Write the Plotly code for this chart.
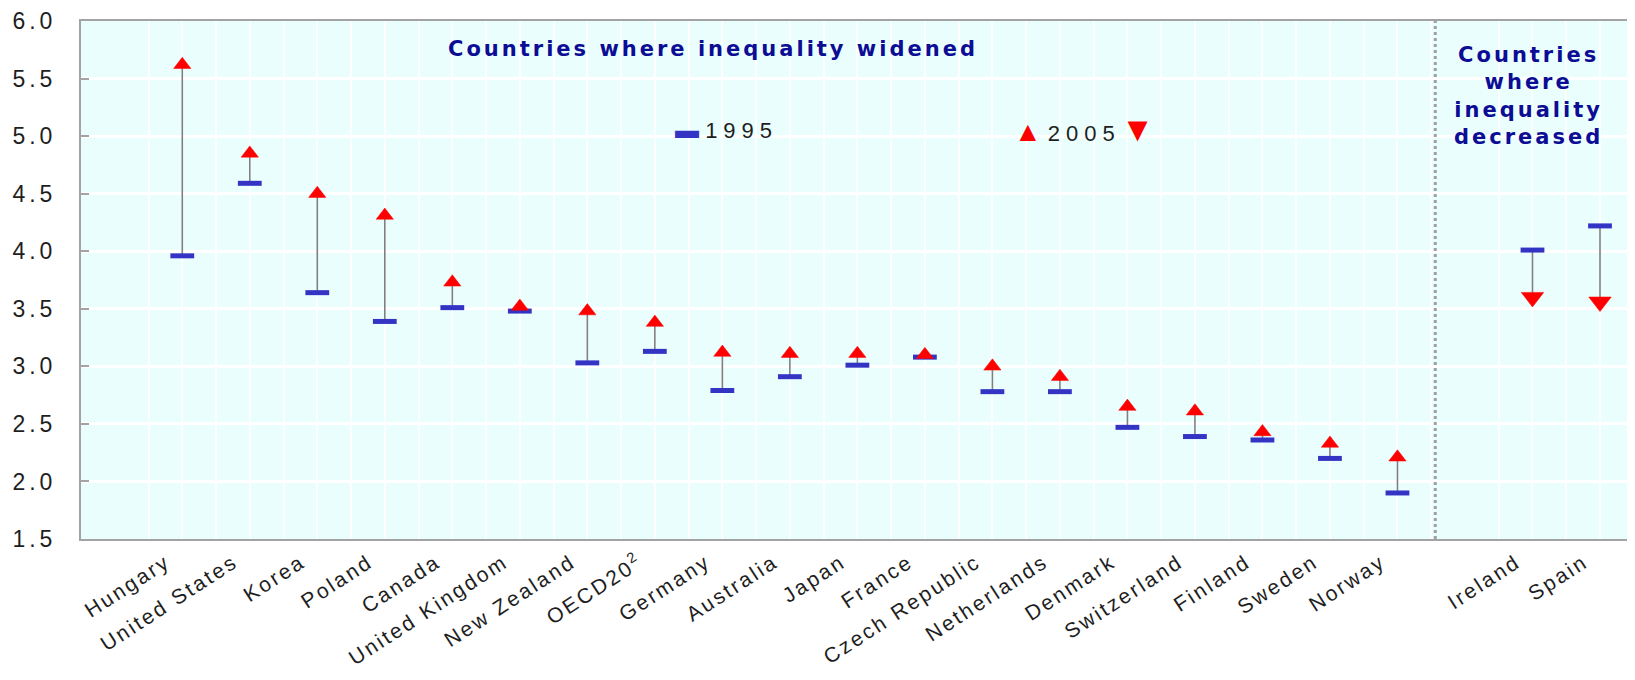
import plotly.graph_objects as go

# ---- data -------------------------------------------------------------
countries = ["Hungary", "United States", "Korea", "Poland", "Canada",
             "United Kingdom", "New Zealand", "OECD20<sup>2</sup>", "Germany",
             "Australia", "Japan", "France", "Czech Republic", "Netherlands",
             "Denmark", "Switzerland", "Finland", "Sweden", "Norway",
             "Ireland", "Spain"]
v1995 = [3.96, 4.59, 3.64, 3.39, 3.51, 3.48, 3.03, 3.13, 2.79, 2.91, 3.01,
         3.08, 2.78, 2.78, 2.47, 2.39, 2.36, 2.20, 1.90, 4.01, 4.22]
v2005 = [5.62, 4.85, 4.50, 4.31, 3.73, 3.52, 3.48, 3.38, 3.12, 3.11, 3.11,
         3.10, 3.00, 2.91, 2.65, 2.61, 2.43, 2.33, 2.21, 3.60, 3.56]
n_widened = 19          # first 19 countries: inequality widened
y_ticks = [1.5, 2.0, 2.5, 3.0, 3.5, 4.0, 4.5, 5.0, 5.5, 6.0]

# ---- styling ----------------------------------------------------------
FONT = "Liberation Sans, Arial, sans-serif"
BOLD_FONT = "DejaVu Sans, Liberation Sans, sans-serif"
BLUE = "#3434C4"
RED = "#FF0000"
NAVY = "#0C0C94"
TXT = "#1E1E1E"

def spaced(t, px):
    return f'<span style="letter-spacing:{px}px">{t}</span>'

# x positions: one empty slot between the two groups
xpos = [i if i < n_widened else i + 1 for i in range(len(countries))]

# connecting lines
lx, ly = [], []
for x, a, b in zip(xpos, v1995, v2005):
    lx += [x, x, None]
    ly += [a, b, None]

fig = go.Figure()
fig.add_trace(go.Scatter(x=lx, y=ly, mode="lines",
                         line=dict(color="#808080", width=1.6),
                         hoverinfo="skip", showlegend=False))
fig.add_trace(go.Scatter(x=xpos, y=v1995, mode="markers", name="1995",
                         marker=dict(symbol="line-ew", size=17,
                                     line=dict(color=BLUE, width=5)),
                         showlegend=False))
sym = ["triangle-up" if b >= a else "triangle-down" for a, b in zip(v1995, v2005)]
sz = [15 if b >= a else 19.5 for a, b in zip(v1995, v2005)]
fig.add_trace(go.Scatter(x=xpos, y=v2005, mode="markers", name="2005",
                         marker=dict(symbol=sym, size=sz, color=RED, opacity=1,
                                     line=dict(width=0.5, color=RED)),
                         showlegend=False))

# divider between the groups
fig.add_shape(type="line", xref="x", yref="paper",
              x0=n_widened - 0.44, x1=n_widened - 0.44, y0=0, y1=1,
              line=dict(color="#A0A0A0", width=3, dash="dot"))

# group titles
fig.add_annotation(xref="paper", yref="paper", x=0.409, y=0.946,
                   text="<b>" + spaced("Countries where inequality widened", 3) + "</b>",
                   showarrow=False, font=dict(family=BOLD_FONT, size=21, color=NAVY),
                   xanchor="center", yanchor="middle")
fig.add_annotation(xref="paper", yref="paper", x=0.936, y=0.856,
                   text="<b>" + "<br>".join(spaced(w, 3) for w in
                                            ["Countries", "where", "inequality", "decreased"]) + "</b>",
                   showarrow=False, font=dict(family=BOLD_FONT, size=21, color=NAVY),
                   xanchor="center", yanchor="middle", align="center")

# legend
fig.add_annotation(xref="paper", yref="paper", x=0.383, y=0.791,
                   text=f'<span style="color:{BLUE};font-size:24px">▬</span> ' + spaced("1995", 6),
                   showarrow=False, font=dict(family=FONT, size=22, color=TXT),
                   xanchor="left", yanchor="middle")
fig.add_annotation(xref="paper", yref="paper", x=0.602, y=0.791,
                   text=f'<span style="color:{RED};font-size:28px">▲</span> ' + spaced("2005", 6)
                        + f'<span style="color:{RED};font-size:34px">▼</span>',
                   showarrow=False, font=dict(family=FONT, size=22, color=TXT),
                   xanchor="left", yanchor="middle")

fig.update_xaxes(range=[-1.5, 21.4],
                 tickmode="array", tickvals=xpos,
                 ticktext=[spaced(c, 2.5) for c in countries],
                 tickangle=-33, ticks="", ticklabelshift=-16, ticklabelstandoff=1,
                 ticklabeloverflow="allow",
                 tickfont=dict(family=FONT, size=21, color=TXT),
                 showgrid=True, gridcolor="rgba(255,255,255,0.9)", gridwidth=1.5,
                 minor=dict(dtick=1, tick0=0.5, showgrid=True,
                            gridcolor="rgba(255,255,255,0.9)", gridwidth=1.5),
                 showline=True, linecolor="#A3A3A3", linewidth=2, mirror=True,
                 zeroline=False, fixedrange=True, automargin=False)
fig.update_yaxes(range=[1.5, 6.0], tickmode="array", tickvals=y_ticks,
                 ticktext=[spaced(f"{v:.1f}", 4) for v in y_ticks],
                 ticks="inside", ticklen=8, tickcolor="#A3A3A3", tickwidth=2,
                 ticklabelstandoff=18, ticklabeloverflow="allow",
                 tickfont=dict(family=FONT, size=23, color=TXT),
                 showgrid=True, gridcolor="#FFFFFF", gridwidth=3,
                 showline=True, linecolor="#A3A3A3", linewidth=2, mirror=True,
                 zeroline=False, fixedrange=True, automargin=False)

# the page adds an 8px body margin, so the figure is sized to fit inside it
fig.update_layout(width=1619, height=664,
                  margin=dict(l=73, r=0, t=13, b=133),
                  plot_bgcolor="#EAFEFE", paper_bgcolor="#FFFFFF",
                  showlegend=False)

fig.write_html("out.html")
